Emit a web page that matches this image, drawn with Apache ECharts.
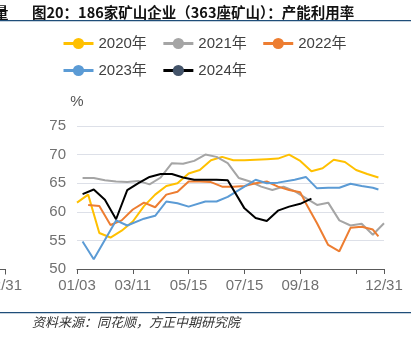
<!DOCTYPE html>
<html><head><meta charset="utf-8">
<script src="https://cdn.jsdelivr.net/npm/echarts@6/dist/echarts.min.js"></script>
<style>html,body{margin:0;padding:0;background:#fff}#c{width:418px;height:357px}</style>
</head><body><div id="c"></div>
<script>
const _ = null;
const categories = ['01/03','01/10','01/17','01/24','01/31','02/07','02/14','02/21','02/28','03/04','03/11',
'03/17','03/24','03/31','04/07','04/14','04/21','04/28','05/05','05/10','05/15',
'05/21','05/27','06/02','06/08','06/14','06/20','06/26','07/02','07/08','07/15',
'07/21','07/28','08/04','08/10','08/17','08/24','08/30','09/05','09/12','09/18',
'09/25','10/02','10/09','10/16','10/23','10/30','11/06','11/13','11/20','11/27','12/04','12/11','12/18','12/25','12/31'];
const seriesNames = ['2020年','2021年','2022年','2023年','2024年'];
const v2020 = [61.6,_,63.0,_,56.3,_,55.5,_,56.7,_,58.3,_,61.0,_,63.0,_,64.5,_,65.0,_,66.7,_,67.3,_,69.0,_,69.6,_,69.0,_,69.0,_,69.1,_,69.2,_,69.3,_,70.0,_,68.9,_,67.1,_,67.6,_,69.1,_,68.7,_,67.3,_,66.6,_,66.0,_];
const v2021 = [_,65.9,_,65.9,_,65.5,_,65.3,_,65.2,_,65.4,_,64.8,_,66.0,_,68.5,_,68.4,_,68.9,_,70.0,_,69.6,_,68.5,_,65.9,_,65.3,_,64.4,_,63.8,_,64.4,_,63.6,_,62.4,_,61.2,_,61.6,_,58.5,_,57.6,_,57.9,_,56.0,_,58.0];
const v2022 = [_,_,61.2,_,61.0,_,57.7,_,58.5,_,60.4,_,61.6,_,60.8,_,63.0,_,63.5,_,65.3,_,65.3,_,65.2,_,64.4,_,64.4,_,64.5,_,65.0,_,65.3,_,64.4,_,63.8,_,63.4,61.5,_,58.0,_,54.2,_,53.1,_,57.2,_,57.4,_,56.9,55.7,_];
const v2023 = [_,54.8,_,51.7,_,_,_,58.5,_,57.6,_,_,58.8,_,59.3,_,61.8,_,61.5,_,60.9,_,_,61.8,_,61.8,_,62.6,_,_,64.4,_,65.6,_,65.0,_,65.1,_,_,65.6,_,66.1,_,64.1,_,64.2,_,64.2,_,64.9,_,64.5,_,64.2,63.9,_];
const v2024 = [_,63.1,_,63.9,_,62.1,_,58.7,_,63.8,_,65.0,_,66.1,_,66.6,_,66.6,_,66.0,_,65.6,_,65.6,_,65.6,_,65.5,_,_,60.6,_,58.9,_,58.4,_,60.2,_,60.9,_,61.4,_,62.3,_,_,_,_,_,_,_,_,_,_,_,_,_];
const yTicks = [50,55,60,65,70,75];
const lineColors = ['#ffc000','#a5a5a5','#ed7d31','#5b9bd5','#000000'];
const dotColors = ['#ffc000','#a5a5a5','#ed7d31','#5b9bd5','#44546a'];
const allValues = [v2020,v2021,v2022,v2023,v2024];

const FONT = "'Liberation Sans','Noto Sans CJK SC',sans-serif";
const chart = echarts.init(document.getElementById('c'), null, {renderer:'canvas'});
const legendBase = {orient:'horizontal', left:57, itemWidth:30, itemHeight:14, itemGap:15,
  textStyle:{fontSize:15,color:'#404040',fontFamily:FONT}, lineStyle:{width:3}, selectedMode:false};
chart.setOption({
  animation:false,
  textStyle:{fontFamily:FONT},
  legend:[
    Object.assign({}, legendBase, {top:31, data:seriesNames.slice(0,3)}),
    Object.assign({}, legendBase, {top:58, data:seriesNames.slice(3)})
  ],
  grid:{left:77, right:34, top:126, bottom:88, containLabel:false},
  xAxis:{type:'category', data:categories, boundaryGap:false,
    axisLine:{lineStyle:{color:'#595959',width:1}},
    axisTick:{length:5, interval:function(i){return i%10===0 || i===categories.length-1;}, lineStyle:{color:'#595959'}},
    axisLabel:{fontSize:15, color:'#707070', margin:9, fontFamily:FONT,
      interval:function(i){return (i%10===0 && i!==50) || i===categories.length-1;}},
    splitLine:{show:false}},
  yAxis:{type:'value', min:yTicks[0], max:yTicks[yTicks.length-1], interval:5,
    name:'%', nameLocation:'end', nameGap:17, nameTextStyle:{fontSize:15,color:'#555',align:'center',fontFamily:FONT},
    axisLine:{show:false}, axisTick:{show:false},
    axisLabel:{fontSize:15,color:'#707070',margin:11,fontFamily:FONT},
    splitLine:{lineStyle:{color:'#dde0e8',width:1}}},
  series: seriesNames.map(function(n,k){return {
    name:n, type:'line', data:allValues[k], connectNulls:true, symbol:'circle', symbolSize:11, showSymbol:false,
    lineStyle:{color:lineColors[k], width:2}, itemStyle:{color:dotColors[k]}, z:2+k };}),
  graphic:[
    {type:'text', style:{text:'量', x:-6, y:12, font:"bold 14.5px 'Noto Sans CJK SC'", fill:'#111', verticalAlign:'middle', textVerticalAlign:'middle'}},
    {type:'text', style:{text:'图20：186家矿山企业（363座矿山）：产能利用率', x:32, y:12, font:"bold 14.5px 'Noto Sans CJK SC'", fill:'#111', verticalAlign:'middle', textVerticalAlign:'middle'}},
    {type:'line', shape:{x1:0,y1:20.7,x2:411,y2:20.7}, style:{stroke:'#1f4e79', lineWidth:1.2}},
    {type:'line', shape:{x1:0,y1:312.7,x2:411,y2:312.7}, style:{stroke:'#1f4e79', lineWidth:1.2}},
    {type:'text', style:{text:'资料来源：同花顺，方正中期研究院', x:32, y:322, font:"italic 13px 'Noto Sans CJK SC'", fill:'#333', verticalAlign:'middle', textVerticalAlign:'middle'}},
    {type:'text', style:{text:'12/31', x:22, y:286, font:"15px 'Liberation Sans'", fill:'#707070', align:'right', textAlign:'right', verticalAlign:'middle', textVerticalAlign:'middle'}},
    {type:'line', shape:{x1:0,y1:269.5,x2:6,y2:269.5}, style:{stroke:'#595959', lineWidth:1}},
    {type:'line', shape:{x1:5.5,y1:269.5,x2:5.5,y2:274.5}, style:{stroke:'#595959', lineWidth:1}}
  ]
});
</script></body></html>
